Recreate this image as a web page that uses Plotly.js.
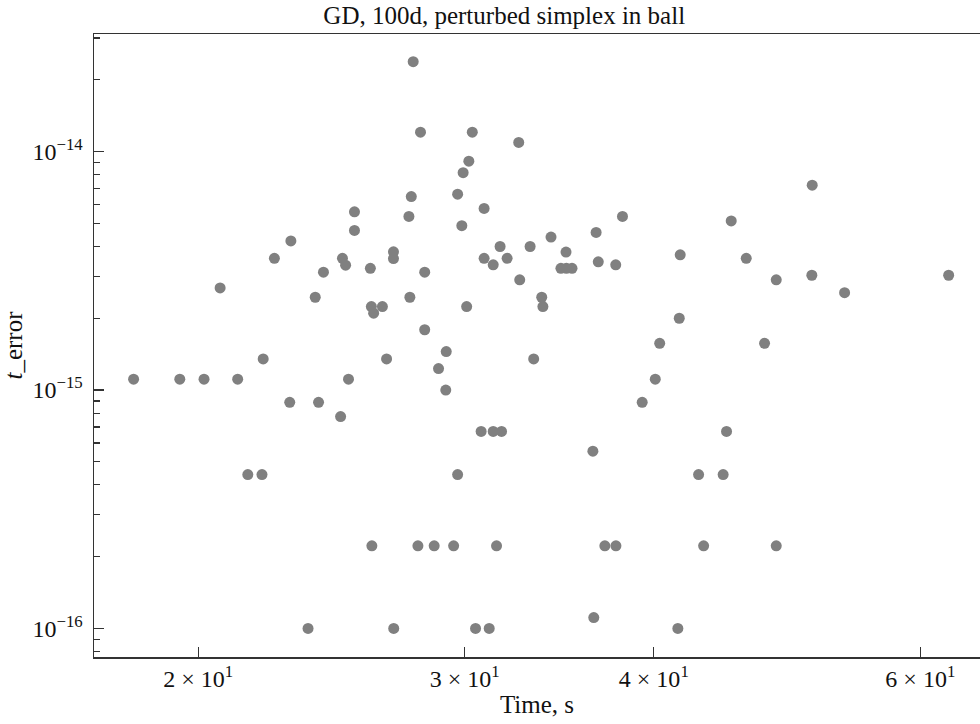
<!DOCTYPE html>
<html><head><meta charset="utf-8">
<script src="https://cdn.plot.ly/plotly-3.0.1.min.js"></script>
<style>html,body{margin:0;padding:0;background:#fff}</style>
</head><body>
<div id="chart" style="width:980px;height:724px"></div>
<script>
// Time, s
const timeS = [
  18.13, 19.45, 20.18, 21.24, 20.68, 21.57, 22.04, 22.08, 22.46, 23.03,
  22.99, 23.64, 23.90, 24.02, 24.20, 24.84, 24.91, 25.03, 25.14, 25.37,
  25.37, 25.99, 26.03, 26.47, 26.12, 26.05, 26.64, 26.92, 26.92, 26.93,
  27.56, 27.66, 27.60, 27.74, 27.94, 28.05, 28.23, 28.23, 28.64, 28.83,
  29.15, 29.17, 29.50, 29.68, 29.68, 29.87, 29.93, 30.09, 30.19, 30.35,
  30.50, 30.76, 30.90, 30.90, 31.14, 31.33, 31.33, 31.49, 31.66, 31.73,
  32.00, 32.57, 32.62, 33.14, 33.32, 33.73, 33.79, 34.21, 34.73, 35.02,
  35.32, 35.00, 36.46, 36.51, 36.64, 36.76, 37.13, 37.76, 37.75, 38.14,
  39.30, 40.09, 40.36, 41.49, 41.58, 41.64, 42.82, 43.15, 44.45, 44.68,
  45.00, 46.04, 47.34, 48.19, 48.19, 50.90, 50.87, 53.47, 62.64
];
// t_error
const tError = [
  1.11e-15, 1.11e-15, 1.11e-15, 1.11e-15, 2.68e-15, 4.42e-16, 4.42e-16, 1.35e-15, 3.57e-15, 4.22e-15,
  8.88e-16, 1.0e-16, 2.45e-15, 8.88e-16, 3.12e-15, 7.74e-16, 3.57e-15, 3.34e-15, 1.11e-15, 5.59e-15,
  4.67e-15, 3.24e-15, 2.24e-15, 2.24e-15, 2.10e-15, 2.22e-16, 1.35e-15, 3.80e-15, 3.56e-15, 1.0e-16,
  5.35e-15, 6.48e-15, 2.45e-15, 2.385e-14, 2.22e-16, 1.207e-14, 3.12e-15, 1.79e-15, 2.22e-16, 1.23e-15,
  1.0e-15, 1.45e-15, 2.22e-16, 6.63e-15, 4.42e-16, 4.89e-15, 8.16e-15, 2.24e-15, 9.12e-15, 1.207e-14,
  1.0e-16, 6.70e-16, 5.78e-15, 3.57e-15, 1.0e-16, 3.35e-15, 6.70e-16, 2.22e-16, 4.0e-15, 6.70e-16,
  3.57e-15, 1.093e-14, 2.90e-15, 4.0e-15, 1.35e-15, 2.45e-15, 2.24e-15, 4.38e-15, 3.24e-15, 3.24e-15,
  3.24e-15, 3.79e-15, 5.54e-16, 1.11e-16, 4.58e-15, 3.45e-15, 2.22e-16, 2.22e-16, 3.35e-15, 5.35e-15,
  8.88e-16, 1.11e-15, 1.57e-15, 1.0e-16, 2.00e-15, 3.69e-15, 4.42e-16, 2.22e-16, 4.42e-16, 6.70e-16,
  5.12e-15, 3.57e-15, 1.57e-15, 2.90e-15, 2.22e-16, 7.23e-15, 3.03e-15, 2.56e-15, 3.03e-15
];

const xTickVals = [20, 30, 40, 60];
const xTickText = ['2 × 10<sup>1</sup>', '3 × 10<sup>1</sup>', '4 × 10<sup>1</sup>', '6 × 10<sup>1</sup>'];
const yTickVals = [1e-16, 1e-15, 1e-14];
const yTickText = ['10<sup>−16</sup>', '10<sup>−15</sup>', '10<sup>−14</sup>'];
const yMinorVals = [8e-17, 9e-17,
  2e-16, 3e-16, 4e-16, 5e-16, 6e-16, 7e-16, 8e-16, 9e-16,
  2e-15, 3e-15, 4e-15, 5e-15, 6e-15, 7e-15, 8e-15, 9e-15,
  2e-14, 3e-14];

const serif = '"Liberation Serif", "Times New Roman", Times, serif';
const axisCol = '#333333';

const trace = {
  type: 'scatter',
  mode: 'markers',
  x: timeS,
  y: tError,
  marker: {color: '#808080', size: 11, line: {width: 0}},
  hoverinfo: 'x+y'
};

const layout = {
  width: 980, height: 724,
  margin: {l: 94, r: 0, t: 34, b: 67, pad: 0},
  paper_bgcolor: '#ffffff', plot_bgcolor: '#ffffff',
  showlegend: false,
  font: {family: serif, color: '#111111', size: 24},
  title: {
    text: 'GD, 100d, perturbed simplex in ball',
    font: {family: serif, size: 25, color: '#111111'},
    x: 0.463, xref: 'paper', xanchor: 'center',
    y: 0.979, yref: 'container', yanchor: 'middle'
  },
  xaxis: {
    type: 'log',
    range: [Math.log10(17.07), Math.log10(65.7)],
    showgrid: false, zeroline: false,
    showline: true, linecolor: axisCol, linewidth: 1.5, mirror: true,
    ticks: 'inside', ticklen: 10, tickwidth: 1.2, tickcolor: axisCol,
    tickmode: 'array', tickvals: xTickVals, ticktext: xTickText,
    tickfont: {family: serif, size: 24, color: '#111111'},
    ticklabelstandoff: 0,
    title: {text: 'Time, s', font: {family: serif, size: 25, color: '#111111'}, standoff: 4}
  },
  yaxis: {
    type: 'log',
    range: [-16.12, -13.5065],
    showgrid: false, zeroline: false,
    showline: true, linecolor: axisCol, linewidth: 1.5, mirror: false,
    ticks: 'inside', ticklen: 10, tickwidth: 1.2, tickcolor: axisCol,
    tickmode: 'array', tickvals: yTickVals, ticktext: yTickText,
    tickfont: {family: serif, size: 24, color: '#111111'},
    ticklabelstandoff: 5,
    minor: {tickmode: 'array', tickvals: yMinorVals, ticks: 'inside', ticklen: 6, tickwidth: 1.2, tickcolor: axisCol, showgrid: false},
    title: {text: '<i>t</i>_error', font: {family: serif, size: 25, color: '#111111'}, standoff: 6}
  }
};

Plotly.newPlot('chart', [trace], layout, {staticPlot: true, displayModeBar: false});
</script>
</body></html>
